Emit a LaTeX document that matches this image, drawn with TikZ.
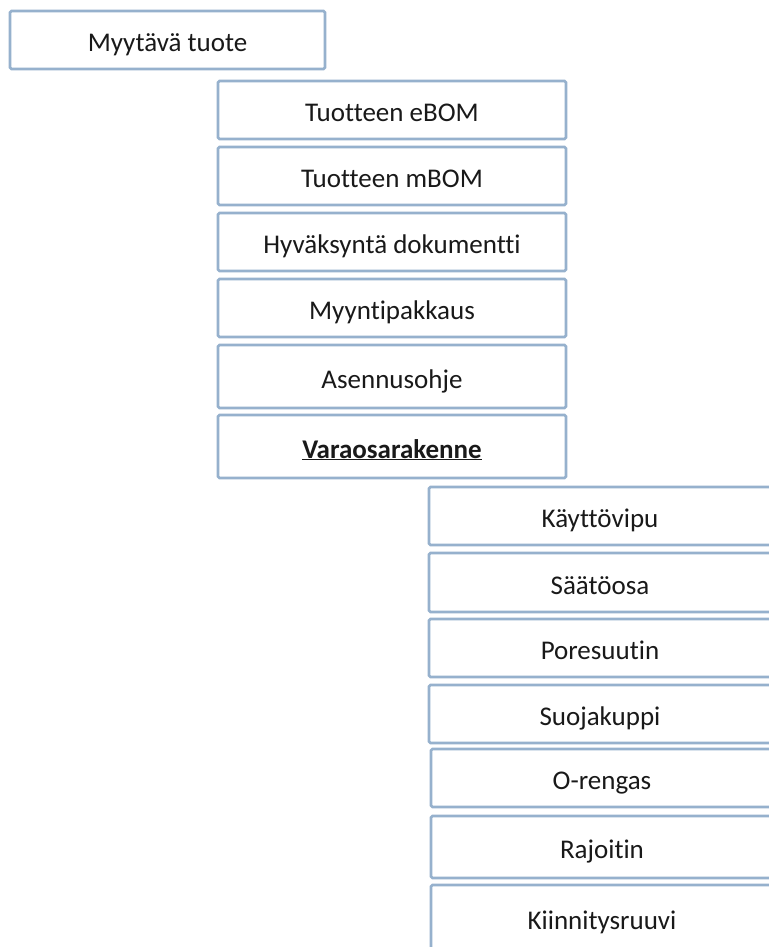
\documentclass[tikz,border=0pt]{standalone}
\usepackage{fontspec}
\setmainfont{Carlito}[RawFeature=-liga]
\usetikzlibrary{positioning}
\definecolor{boxline}{RGB}{150,177,205}

\begin{document}
\begin{tikzpicture}[x=1pt, y=1pt, node distance=8pt,
    part/.style={draw=boxline, line width=2.6pt, rounded corners=1.5pt, fill=white, outer sep=0pt, inner sep=0pt, minimum height=58pt, text height=27pt, text depth=4pt, font=\fontsize{27}{32}\selectfont, text=black!90},
    headbox/.style={part, minimum width=315pt},
    midbox/.style={part, minimum width=348pt},
    subbox/.style={part, minimum width=342pt}]
                \useasboundingbox (0,0) rectangle (768,-947);
                \node[headbox, anchor=north west] (tuote) at (10,-11) {Myytävä tuote};
                \node[midbox, anchor=north west] (ebom) at (218,-81) {Tuotteen eBOM};
                \node[midbox] (mbom) [below=of ebom] {Tuotteen mBOM};
                \node[midbox] (hyvaksynta) [below=of mbom] {Hyväksyntä dokumentti};
                \node[midbox] (pakkaus) [below=of hyvaksynta] {Myyntipakkaus};
                \node[midbox, minimum height=63pt] (ohje) [below=of pakkaus] {Asennusohje};
                \node[midbox, minimum height=63pt] (varaosa) [below=7pt of ohje] {\underline{\textbf{Varaosarakenne}}};
                \node[subbox, anchor=north west] (vipu) at (429,-487) {Käyttövipu};
                \node[subbox, minimum height=59pt] (saato) [below=of vipu] {Säätöosa};
                \node[subbox] (suutin) [below=7pt of saato] {Poresuutin};
                \node[subbox] (kuppi) [below=of suutin] {Suojakuppi};
                \node[subbox] (orengas) [below=6pt of kuppi, xshift=2pt] {O-rengas};
                \node[subbox, minimum height=62pt] (rajoitin) [below=9pt of orengas] {Rajoitin};
                \node[subbox, minimum height=65pt] (ruuvi) [below=7pt of rajoitin] {Kiinnitysruuvi};
        \end{tikzpicture}
\end{document}
